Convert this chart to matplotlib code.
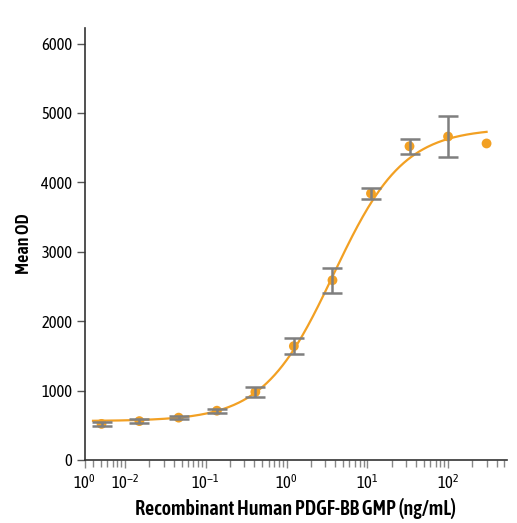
import numpy as np
import matplotlib
matplotlib.use("Agg")
import matplotlib.pyplot as plt
from matplotlib import font_manager
from matplotlib.ticker import FixedLocator, LogLocator, NullFormatter

# concentrations (ng/mL), 3-fold dilutions
conc = [0.0051, 0.015, 0.046, 0.137, 0.41, 1.23, 3.7, 11.1, 33.3, 100, 300]
mean_od = [520, 560, 610, 710, 980, 1640, 2590, 3840, 4520, 4660, 4560]
err = [30, 30, 25, 30, 70, 120, 180, 80, 110, 300, 0]

# fitted 4PL curve parameters
bottom = 560
top = 4780
ec50 = 3.8
hill = 1.0

xticks = [10**-2.5, 0.01, 0.1, 1, 10, 100]
xticklabels = ["$10^0$", "$10^{-2}$", "$10^{-1}$", "$10^0$", "$10^1$", "$10^2$"]

orange = "#F2A023"
gray = "#7f7f7f"

names = set(f.name for f in font_manager.fontManager.ttflist)
font = 'Asap Condensed' if 'Asap Condensed' in names else 'DejaVu Sans'

plt.rcParams['font.family'] = [font, 'DejaVu Sans']
plt.rcParams['mathtext.fontset'] = 'custom'
plt.rcParams['mathtext.rm'] = font
plt.rcParams['mathtext.it'] = font
plt.rcParams['mathtext.bf'] = font

fig = plt.figure(figsize=(5.17, 5.23), dpi=100)
ax = fig.add_axes([0.164, 0.1205, 0.817, 0.8255])

xf = np.logspace(np.log10(0.004), np.log10(300), 300)
yf = bottom + (top - bottom) / (1 + (ec50 / xf) ** hill)
ax.plot(xf, yf, color=orange, lw=1.6, zorder=2)

ax.scatter(conc, mean_od, s=50, color=orange, zorder=3, edgecolors='none')
for x, y, e in zip(conc, mean_od, err):
    if e > 0:
        ax.errorbar(x, y, yerr=e, fmt='none', ecolor=gray, elinewidth=1.8,
                    capsize=7, capthick=1.8, zorder=4)

ax.set_xscale('log')
ax.set_xlim(10**-2.5, 540)
ax.set_ylim(0, 6220)
ax.xaxis.set_major_locator(FixedLocator(xticks))
ax.set_xticklabels(xticklabels)
ax.xaxis.set_minor_locator(LogLocator(base=10, subs=np.arange(2, 10)))
ax.xaxis.set_minor_formatter(NullFormatter())
ax.set_yticks([0, 1000, 2000, 3000, 4000, 5000, 6000])

for s in ['top', 'right']:
    ax.spines[s].set_visible(False)
for s in ['left', 'bottom']:
    ax.spines[s].set_color('#333333')
    ax.spines[s].set_linewidth(1.2)

ax.tick_params(axis='y', length=6, width=1, color='#555555', labelsize=12, pad=3)
ax.tick_params(axis='x', which='major', length=6, width=1, color='#888888', labelsize=12, pad=4)
ax.tick_params(axis='x', which='minor', length=5, width=1, color='#888888')

ax.set_xlabel("Recombinant Human PDGF-BB GMP (ng/mL)", fontsize=14.5, fontweight=600, labelpad=4)
ax.set_ylabel("Mean OD", fontsize=13, fontweight=600, labelpad=6)

fig.savefig("out.png", dpi=100)
